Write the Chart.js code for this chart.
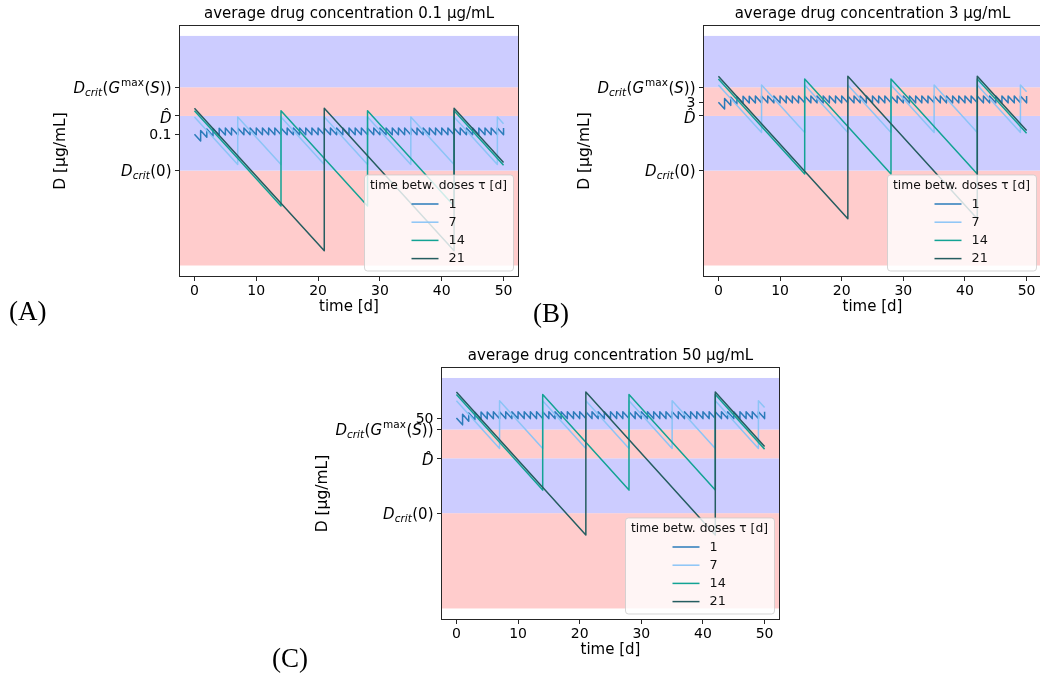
<!DOCTYPE html>
<html>
<head>
<meta charset="utf-8">
<script src="https://cdn.jsdelivr.net/npm/chart.js"></script>
<style>
html,body{margin:0;padding:0;background:#fff;overflow:hidden;width:1040px;height:677px;}
canvas{position:absolute;}
</style>
</head>
<body>
<canvas id="cA" width="560" height="340" style="left:0px;top:0px;"></canvas>
<canvas id="cB" width="540" height="340" style="left:520px;top:0px;"></canvas>
<canvas id="cC" width="560" height="337" style="left:250px;top:340px;"></canvas>
<script>
// ---------------- data ----------------
const xTicks = [0, 10, 20, 30, 40, 50];
const tauLabels = ['1', '7', '14', '21'];
const legendTitle = 'time betw. doses \u03c4 [d]';
const avgLabels = ['0.1', '3', '50'];
const avgValues = [0.1, 3, 50];
const panelLetters = ['(A)', '(B)', '(C)'];
const Dcrit0 = 0.00208, Dhat = 0.70, DcritGmax = 14.8;
const bandEdges = [8.5e-8, 0.00208, 0.70, 14.8, 3.5e3];
const yLimits = [2.5e-8, 1.12e4];
const xLimits = [-2.5, 52.5];

// tau = 1 : dose days, concentration right after dose (peaks) and right before dose (troughs, days 1..50)
const tau1Days = [0,1,2,3,4,5,6,7,8,9,10,11,12,13,14,15,16,17,18,19,20,21,22,23,24,25,26,27,28,29,30,31,32,33,34,35,36,37,38,39,40,41,42,43,44,45,46,47,48,49,50];
const A_tau1Peaks = [0.1,0.1485,0.172,0.1834,0.189,0.1917,0.193,0.1936,0.1939,0.194,0.194,0.194,0.194,0.194,0.194,0.194,0.194,0.194,0.194,0.194,0.194,0.194,0.194,0.194,0.194,0.194,0.194,0.194,0.194,0.194,0.194,0.194,0.194,0.194,0.194,0.194,0.194,0.194,0.194,0.194,0.194,0.194,0.194,0.194,0.194,0.194,0.194,0.194,0.194,0.194,0.194];
const A_tau1Troughs = [0.0485,0.072,0.0834,0.089,0.0917,0.093,0.0936,0.0939,0.094,0.0941,0.0941,0.0941,0.0941,0.0941,0.0941,0.0941,0.0941,0.0941,0.0941,0.0941,0.0941,0.0941,0.0941,0.0941,0.0941,0.0941,0.0941,0.0941,0.0941,0.0941,0.0941,0.0941,0.0941,0.0941,0.0941,0.0941,0.0941,0.0941,0.0941,0.0941,0.0941,0.0941,0.0941,0.0941,0.0941,0.0941,0.0941,0.0941,0.0941,0.0941];
const B_tau1Peaks = [3,4.46,5.16,5.5,5.67,5.75,5.79,5.81,5.82,5.82,5.82,5.82,5.82,5.82,5.82,5.82,5.82,5.82,5.82,5.82,5.82,5.82,5.82,5.82,5.82,5.82,5.82,5.82,5.82,5.82,5.82,5.82,5.82,5.82,5.82,5.82,5.82,5.82,5.82,5.82,5.82,5.82,5.82,5.82,5.82,5.82,5.82,5.82,5.82,5.82,5.82];
const B_tau1Troughs = [1.46,2.16,2.5,2.67,2.75,2.79,2.81,2.82,2.82,2.82,2.82,2.82,2.82,2.82,2.82,2.82,2.82,2.82,2.82,2.82,2.82,2.82,2.82,2.82,2.82,2.82,2.82,2.82,2.82,2.82,2.82,2.82,2.82,2.82,2.82,2.82,2.82,2.82,2.82,2.82,2.82,2.82,2.82,2.82,2.82,2.82,2.82,2.82,2.82,2.82];
const C_tau1Peaks = [50,74.3,86,91.7,94.5,95.9,96.5,96.8,97,97,97,97,97,97,97,97,97,97,97,97,97,97,97,97,97,97,97,97,97,97,97,97,97,97,97,97,97,97,97,97,97,97,97,97,97,97,97,97,97,97,97];
const C_tau1Troughs = [24.3,36,41.7,44.5,45.9,46.5,46.8,47,47,47,47,47,47,47,47,47,47,47,47,47,47,47,47,47,47,47,47,47,47,47,47,47,47,47,47,47,47,47,47,47,47,47,47,47,47,47,47,47,47,47];

// tau = 7, 14, 21 : vertex times and concentrations
const tau7Times = [0,7,7,14,14,21,21,28,28,35,35,42,42,49,49,50];
const A_tau7 = [0.63,0.004,0.63,0.004,0.63,0.004,0.63,0.004,0.63,0.004,0.63,0.004,0.63,0.004,0.63,0.306];
const B_tau7 = [18.9,0.12,18.9,0.12,18.9,0.12,18.9,0.12,18.9,0.12,18.9,0.12,18.9,0.12,18.9,9.2];
const C_tau7 = [315,2.0,315,2.0,315,2.0,315,2.0,315,2.0,315,2.0,315,2.0,315,153];

const tau14Times = [0,14,14,28,28,42,42,50];
const A_tau14 = [1.2,4.8e-5,1.2,4.8e-5,1.2,4.8e-5,1.2,0.0037];
const B_tau14 = [36,1.44e-3,36,1.44e-3,36,1.44e-3,36,0.111];
const C_tau14 = [600,0.024,600,0.024,600,0.024,600,1.85];

const tau21Times = [0,21,21,42,42,50];
const A_tau21 = [1.59,4.1e-7,1.59,4.1e-7,1.59,0.0049];
const B_tau21 = [47.7,1.23e-5,47.7,1.23e-5,47.7,0.147];
const C_tau21 = [795,2.05e-4,795,2.05e-4,795,2.45];

// ---------------- styles ----------------
const FONT = '"DejaVu Sans", sans-serif';
const seriesColors = ['#2b7bba', '#8cc4f6', '#12a394', '#255d60'];
const bandColors = ['#ffcccc', '#ccccff', '#ffcccc', '#ccccff'];

function sawPoints(days, peaks, troughs) {
  const pts = [{x: days[0], y: peaks[0]}];
  for (let i = 1; i < days.length; i++) {
    pts.push({x: days[i], y: troughs[i - 1]});
    pts.push({x: days[i], y: peaks[i]});
  }
  return pts;
}
function zipPoints(times, vals) { return times.map((t, i) => ({x: t, y: vals[i]})); }

function drawRich(ctx, segs, xRight, yMid, size) {
  const widths = [];
  let total = 0;
  const fontOf = s => (s.it ? 'italic ' : '') + ((s.sub || s.sup) ? size * 0.7 : size) + 'px ' + FONT;
  segs.forEach(s => { ctx.font = fontOf(s); const w = ctx.measureText(s.t).width + (s.gap || 0); widths.push(w); total += w; });
  let x = xRight - total;
  const base = yMid + size * 0.365;
  ctx.textAlign = 'left';
  ctx.textBaseline = 'alphabetic';
  segs.forEach((s, i) => {
    ctx.font = fontOf(s);
    let y = base;
    if (s.sub) y += size * 0.2;
    if (s.sup) y -= size * 0.45;
    ctx.fillText(s.t, x, y);
    x += widths[i];
  });
}

const segDcritG = [{t:'D',it:1},{t:'crit',it:1,sub:1,gap:0.5},{t:'('},{t:'G',it:1,gap:1},{t:'max',sup:1,gap:0.5},{t:'('},{t:'S',it:1},{t:'))'}];
const segDcrit0 = [{t:'D',it:1},{t:'crit',it:1,sub:1,gap:0.5},{t:'(0)'}];
const segDhat = [{t:'D\u0302',it:1}];

function makePanel(p) {
  const canvas = document.getElementById(p.canvasId);
  const W = canvas.width, H = canvas.height;
  const datasets = [
    {label: tauLabels[0], data: sawPoints(tau1Days, p.t1p, p.t1t), borderColor: seriesColors[0], order: 3},
    {label: tauLabels[1], data: zipPoints(tau7Times, p.t7), borderColor: seriesColors[1], order: 2},
    {label: tauLabels[2], data: zipPoints(tau14Times, p.t14), borderColor: seriesColors[2], order: 1},
    {label: tauLabels[3], data: zipPoints(tau21Times, p.t21), borderColor: seriesColors[3], order: 0}
  ].map(d => Object.assign({borderWidth: 1.5, pointRadius: 0, fill: false, tension: 0,
                            borderJoinStyle: 'round', backgroundColor: d.borderColor}, d));

  const yTickVals = p.yTicks.map(t => t.v);

  const plugin = {
    id: 'panelDeco' + p.canvasId,
    beforeDatasetsDraw(chart) {
      const {ctx, chartArea: a, scales: {y}} = chart;
      ctx.save();
      for (let i = 0; i < 4; i++) {
        const y0 = y.getPixelForValue(bandEdges[i]);
        const y1 = y.getPixelForValue(bandEdges[i + 1]);
        ctx.fillStyle = bandColors[i];
        ctx.fillRect(a.left, y1, a.right - a.left, y0 - y1);
      }
      ctx.restore();
    },
    afterDatasetsDraw(chart) {
      const {ctx, chartArea: a} = chart;
      ctx.save();
      const lw = 149, lh = 96;
      const lx = a.right - 6 - lw, ly = a.bottom - 6.5 - lh;
      ctx.beginPath();
      ctx.roundRect(lx + 0.5, ly + 0.5, lw, lh, 3);
      ctx.fillStyle = 'rgba(255,255,255,0.8)';
      ctx.fill();
      ctx.strokeStyle = 'rgba(204,204,204,0.8)';
      ctx.lineWidth = 1;
      ctx.stroke();
      const cx = lx + lw / 2;
      ctx.fillStyle = '#111';
      ctx.font = '12.3px ' + FONT;
      ctx.textAlign = 'center';
      ctx.textBaseline = 'middle';
      ctx.fillText(legendTitle, cx, ly + 11);
      ctx.textAlign = 'left';
      ctx.font = '12.8px ' + FONT;
      for (let i = 0; i < 4; i++) {
        const yy = ly + 29.5 + i * 18.2;
        ctx.strokeStyle = seriesColors[i];
        ctx.lineWidth = 1.5;
        ctx.beginPath();
        ctx.moveTo(cx - 27, yy);
        ctx.lineTo(cx, yy);
        ctx.stroke();
        ctx.fillStyle = '#111';
        ctx.fillText(tauLabels[i], cx + 10, yy + 0.5);
      }
      ctx.restore();
    },
    afterDraw(chart) {
      const {ctx, chartArea: a, scales: {y}} = chart;
      ctx.save();
      // frame
      ctx.strokeStyle = '#262626';
      ctx.lineWidth = 1;
      ctx.strokeRect(Math.round(a.left) + 0.5, Math.round(a.top) + 0.5,
                     Math.round(a.right - a.left) - 1, Math.round(a.bottom - a.top) - 1);
      // y tick labels
      ctx.fillStyle = '#000';
      p.yTicks.forEach(t => {
        const py = y.getPixelForValue(t.v) + (t.dy || 0);
        if (t.segs) drawRich(ctx, t.segs, a.left - 7.5, py, 15);
        else {
          ctx.font = '14px ' + FONT;
          ctx.textAlign = 'right';
          ctx.textBaseline = 'alphabetic';
          ctx.fillText(t.text, a.left - 7.5, py + 14 * 0.365);
        }
      });
      // title
      ctx.font = '15px ' + FONT;
      ctx.textAlign = 'center';
      ctx.textBaseline = 'alphabetic';
      ctx.fillText(p.title, (a.left + a.right) / 2, a.top - 7);
      // x label
      ctx.fillText('time [d]', (a.left + a.right) / 2, a.bottom + 34);
      // y label
      ctx.save();
      ctx.font = '15.5px ' + FONT;
      ctx.translate(a.left - 118, (a.top + a.bottom) / 2);
      ctx.rotate(-Math.PI / 2);
      ctx.textBaseline = 'middle';
      ctx.fillText('D [\u00b5g/mL]', 0, 0);
      ctx.restore();
      // panel letter
      ctx.font = '27px "Liberation Serif", "DejaVu Serif", serif';
      ctx.textAlign = 'left';
      ctx.textBaseline = 'alphabetic';
      ctx.fillText(p.letter, p.letterX, p.letterY);
      ctx.restore();
    }
  };

  return new Chart(canvas, {
    type: 'line',
    data: {datasets},
    options: {
      responsive: false,
      animation: false,
      devicePixelRatio: 1,
      events: [],
      layout: {padding: {left: 0, top: p.area.t, right: W - p.area.r, bottom: 0}},
      scales: {
        x: {
          type: 'linear', min: xLimits[0], max: xLimits[1],
          afterBuildTicks: s => { s.ticks = xTicks.map(v => ({value: v})); },
          afterFit: s => { s.height = H - p.area.b; },
          ticks: {font: {family: 'DejaVu Sans', size: 14}, color: '#000', padding: 2, maxRotation: 0, autoSkip: false},
          grid: {display: true, drawOnChartArea: false, drawTicks: true, tickLength: 4, color: '#262626', lineWidth: 1},
          border: {display: false}
        },
        y: {
          type: 'logarithmic', min: yLimits[0], max: yLimits[1],
          afterBuildTicks: s => { s.ticks = yTickVals.map(v => ({value: v})); },
          afterFit: s => { s.width = p.area.l; },
          ticks: {callback: () => '', autoSkip: false, padding: 0},
          grid: {display: true, drawOnChartArea: false, drawTicks: true, tickLength: 4, color: '#262626', lineWidth: 1},
          border: {display: false}
        }
      },
      plugins: {legend: {display: false}, tooltip: {enabled: false}, title: {display: false}}
    },
    plugins: [plugin]
  });
}

makePanel({
  canvasId: 'cA', area: {l: 179, t: 25, r: 519, b: 277},
  title: 'average drug concentration ' + avgLabels[0] + ' \u00b5g/mL',
  t1p: A_tau1Peaks, t1t: A_tau1Troughs, t7: A_tau7, t14: A_tau14, t21: A_tau21,
  yTicks: [{v: DcritGmax, segs: segDcritG}, {v: Dhat, segs: segDhat, dy: 1.5}, {v: avgValues[0], text: avgLabels[0]}, {v: Dcrit0, segs: segDcrit0}],
  letter: panelLetters[0], letterX: 9, letterY: 320
});
makePanel({
  canvasId: 'cB', area: {l: 183, t: 25, r: 522, b: 277},
  title: 'average drug concentration ' + avgLabels[1] + ' \u00b5g/mL',
  t1p: B_tau1Peaks, t1t: B_tau1Troughs, t7: B_tau7, t14: B_tau14, t21: B_tau21,
  yTicks: [{v: DcritGmax, segs: segDcritG}, {v: avgValues[1], text: avgLabels[1]}, {v: Dhat, segs: segDhat, dy: 1.5}, {v: Dcrit0, segs: segDcrit0}],
  letter: panelLetters[1], letterX: 13, letterY: 322
});
makePanel({
  canvasId: 'cC', area: {l: 191, t: 27, r: 530, b: 280},
  title: 'average drug concentration ' + avgLabels[2] + ' \u00b5g/mL',
  t1p: C_tau1Peaks, t1t: C_tau1Troughs, t7: C_tau7, t14: C_tau14, t21: C_tau21,
  yTicks: [{v: avgValues[2], text: avgLabels[2]}, {v: DcritGmax, segs: segDcritG}, {v: Dhat, segs: segDhat, dy: 1.5}, {v: Dcrit0, segs: segDcrit0}],
  letter: panelLetters[2], letterX: 22, letterY: 327
});
</script>
</body>
</html>
